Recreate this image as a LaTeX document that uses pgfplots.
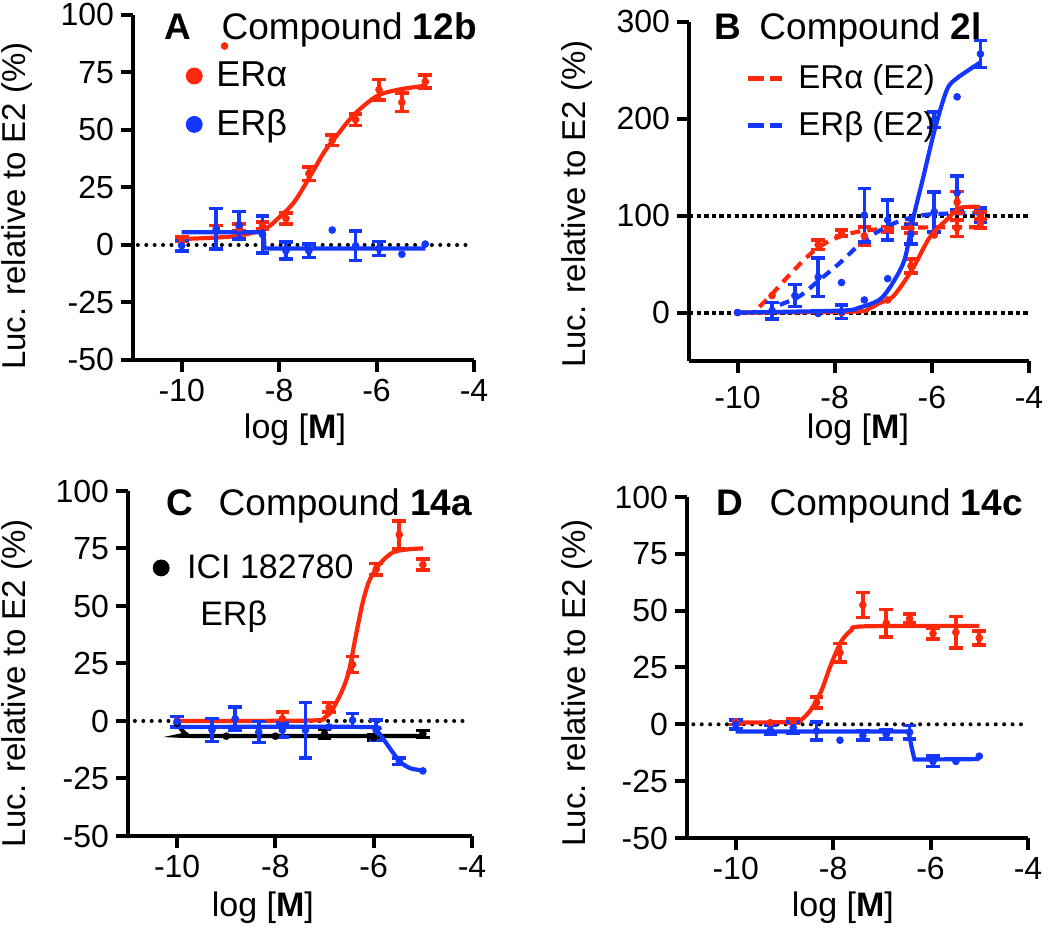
\documentclass[border=0pt]{standalone}
\usepackage{fontspec}
\setmainfont{Liberation Sans}
\usepackage{pgfplots}
\pgfplotsset{compat=1.18}

\definecolor{pred}{RGB}{255,40,10}
\definecolor{pblue}{RGB}{20,55,255}

\tikzset{ttl/.style={anchor=base west, font=\fontsize{18.5}{18.5}\selectfont}}

\pgfplotsset{
  prism/.style={
    scale only axis, clip=false,
    axis lines=left, axis line style={-, line width=2pt},
    every tick/.style={black, line width=2pt},
    tick align=outside, major tick length=6pt,
    xmin=-11, xmax=-4, xtick={-10,-8,-6,-4},
    ymin=-50, ymax=100, ytick={-50,-25,0,25,50,75,100},
    /pgf/number format/assume math mode=true,
    tick label style={font=\fontsize{16}{16}\selectfont},
    xlabel={log [\textbf{M}]},
    ylabel={Luc. relative to E2 (\%)},
    xlabel style={font=\fontsize{17}{17}\selectfont, anchor=center},
    ylabel style={font=\fontsize{16.5}{16.5}\selectfont, anchor=center},
    legend style={draw=none, fill=none, font=\fontsize{18}{18}\selectfont,
      inner sep=0pt, row sep=6pt,
      /tikz/every odd column/.append style={column sep=5pt}},
    legend cell align=left,
  },
  pts/.style={only marks, mark=*, mark size=1.7pt, #1,
    error bars/.cd, y dir=both, y explicit,
    error bar style={line width=1.8pt, #1},
    error mark options={rotate=90, mark size=3.4pt, line width=1.8pt, #1}},
  single/.style={only marks, mark=*, mark size=1.7pt, #1},
  fit/.style={line width=2.1pt, no marks, #1},
  zero/.style={black, line width=2pt, dash pattern=on 0pt off 4.2pt, line cap=round, no marks},
}

\begin{document}
\begin{tikzpicture}
\useasboundingbox (0,0) rectangle (525pt,464.5pt);

% ---------------- A: compound 12b ----------------
\begin{axis}[prism, at={(66.5pt,284.5pt)}, anchor=south west,
    width=170.5pt, height=172.5pt,
    ylabel style={at={(axis description cs:-0.34,0.446)}},
    xlabel style={at={(axis description cs:0.475,-0.203)}},
    legend style={at={(axis description cs:0.155,0.752)}, anchor=west}]
  \addlegendimage{only marks, mark=*, mark size=4pt, pred}
  \addlegendentry{ERα}
  \addlegendimage{only marks, mark=*, mark size=4pt, pblue}
  \addlegendentry{ERβ}
  \addplot[zero] coordinates {(-10.9,0) (-4.14,0)};
  % ER alpha
  \addplot[fit=pred, smooth] coordinates {(-10,2.6) (-8.91,3.8) (-8.30,7) (-8.03,11.4) (-7.69,18.7)
    (-7.35,30.4) (-7.07,40.6) (-6.80,48) (-6.46,56.7) (-5.99,64.8) (-5.51,67.7) (-5.0,69.2)};
  \addplot[pts=pred] coordinates {(-10,2.5) +- (0,1) (-9.29,7) +- (0,1.5) (-8.82,7.5) +- (0,1.5)
    (-8.34,8.5) +- (0,1.5) (-7.86,11.5) +- (0,2.5) (-7.39,31) +- (0,3) (-6.91,45.5) +- (0,2.2)
    (-6.43,54.5) +- (0,2.5) (-5.95,67.5) +- (0,4.5) (-5.48,62) +- (0,4) (-5.0,71) +- (0,2.8)};
  \addplot[single=pred] coordinates {(-9.12,86.5)};
  % ER beta
  \addplot[fit=pblue] coordinates {(-10,5.5) (-8.32,5.5) (-8.30,-1.5) (-5.0,-1.5)};
  \addplot[pts=pblue] coordinates {(-10,-0.3) +- (0,2.2) (-9.29,7) +- (0,8.8) (-8.82,8.6) +- (0,6)
    (-8.34,4.5) +- (0,8) (-7.86,-2.5) +- (0,3.7) (-7.39,-2.5) +- (0,3) (-6.43,-0.3) +- (0,6.5)
    (-5.95,-1.5) +- (0,3)};
  \addplot[single=pblue] coordinates {(-6.91,6.5) (-5.48,-4) (-5.0,0.4)};
  \node[ttl] at (axis description cs:0.073,0.928) {\textbf{A}\hspace{15pt}Compound \textbf{12b}};
\end{axis}

% ---------------- B: compound 2l ----------------
\begin{axis}[prism, at={(344.5pt,284pt)}, anchor=south west,
    width=170pt, height=169.5pt,
    ymin=-50, ymax=300, ytick={0,100,200,300},
    xticklabel style={yshift=-3pt},
    ylabel style={at={(axis description cs:-0.33,0.463)}},
    xlabel style={at={(axis description cs:0.497,-0.204)}},
    legend style={at={(axis description cs:0.165,0.765)}, anchor=west,
      font=\fontsize{16.5}{16.5}\selectfont}]
  \addlegendimage{pred, line width=2.4pt, dash pattern=on 8pt off 3pt}
  \addlegendentry{ERα (E2)}
  \addlegendimage{pblue, line width=2.4pt, dash pattern=on 8pt off 3pt}
  \addlegendentry{ERβ (E2)}
  \addplot[zero, dash pattern=on 2.2pt off 1.6pt, line cap=butt] coordinates {(-11,0) (-4,0)};
  \addplot[zero, dash pattern=on 2.2pt off 1.6pt, line cap=butt] coordinates {(-11,100) (-4,100)};
  % ER alpha (E2), dashed
  \addplot[fit=pred, smooth, dash pattern=on 5pt off 3.5pt] coordinates {(-9.55,6) (-9.31,18) (-8.90,40.5)
    (-8.49,61) (-8.07,75) (-7.52,83.5) (-6.83,87) (-6.0,88) (-5.04,88)};
  \addplot[pts=pred] coordinates {(-8.34,70) +- (0,5) (-7.86,82) +- (0,3) (-7.39,79) +- (0,9.5)
    (-6.91,86) +- (0,3) (-6.43,87) +- (0,5) (-5.48,87) +- (0,8.5) (-5.0,92) +- (0,5)};
  \addplot[single=pred] coordinates {(-10,0) (-9.29,17.5)};
  % ER beta (E2), dashed
  \addplot[fit=pblue, smooth, dash pattern=on 5pt off 3.5pt] coordinates {(-9.13,8) (-8.72,17) (-8.33,33)
    (-7.9,51) (-7.38,75) (-6.83,91) (-6.42,98) (-6.0,101.5) (-5.04,103)};
  \addplot[pts=pblue] coordinates {(-8.82,17.5) +- (0,11.3) (-8.34,36.6) +- (0,20)
    (-7.39,100.5) +- (0,27.5) (-6.91,95.5) +- (0,20.6) (-5.95,104) +- (0,20.6)
    (-5.48,123.7) +- (0,17.5) (-5.0,100.5) +- (0,7.7)};
  \addplot[single=pblue] coordinates {(-7.86,31) (-6.43,97)};
  % compound 2l, ER alpha
  \addplot[fit=pred, smooth] coordinates {(-10,0) (-7.6,1) (-7.3,4) (-7.07,10) (-6.8,16.5) (-6.41,44)
    (-6.04,78) (-5.69,96) (-5.42,108) (-5.01,109)};
  \addplot[pts=pred] coordinates {(-6.43,48) +- (0,7) (-5.48,114) +- (0,11) (-5.0,100) +- (0,4)};
  \addplot[single=pred] coordinates {(-7.86,0) (-6.91,13) (-5.95,80)};
  % compound 2l, ER beta
  \addplot[fit=pblue, smooth] coordinates {(-10,0) (-7.87,2) (-7.5,5) (-7.07,13.5) (-6.80,31)
    (-6.56,55) (-6.39,96) (-6.19,137) (-5.94,189) (-5.69,230) (-5.48,242) (-5.01,258)};
  \addplot[pts=pblue] coordinates {(-9.29,2) +- (0,8.5) (-7.86,1) +- (0,7) (-6.43,81) +- (0,10)
    (-5.95,199) +- (0,8) (-5.0,267) +- (0,14)};
  \addplot[single=pblue] coordinates {(-10,0) (-8.34,-1) (-7.39,13) (-6.91,35) (-5.48,222.7)};
  \node[ttl] at (axis description cs:0.055,0.947) {\textbf{B}\hspace{9pt}Compound \textbf{2l}};
\end{axis}

% ---------------- C: compound 14a ----------------
\begin{axis}[prism, at={(64pt,46.5pt)}, anchor=south west,
    width=172pt, height=172.5pt,
    ylabel style={at={(axis description cs:-0.323,0.443)}},
    xlabel style={at={(axis description cs:0.392,-0.209)}},
    legend style={at={(axis description cs:0.072,0.777)}, anchor=west,
      font=\fontsize{17}{17}\selectfont,
      /tikz/every odd column/.append style={column sep=7pt}}]
  \addlegendimage{only marks, mark=*, mark size=4pt, black}
  \addlegendentry{ICI 182780}
  \addplot[zero] coordinates {(-10.86,0) (-4.15,0)};
  % ER alpha
  \addplot[fit=pred, smooth] coordinates {(-10,0) (-7.3,0.2) (-7.0,1.5) (-6.85,4.6) (-6.64,13.3)
    (-6.50,22) (-6.37,36.4) (-6.23,50.9) (-6.09,61) (-5.88,68.2) (-5.61,73.3) (-5.27,74.7) (-5,75)};
  \addplot[pts=pred] coordinates {(-7.86,1) +- (0,3) (-6.91,6) +- (0,2) (-6.43,24.5) +- (0,3.5)
    (-5.95,66) +- (0,2.5) (-5.48,81) +- (0,6) (-5.0,68) +- (0,2.4)};
  \addplot[single=pred] coordinates {(-10,0)};
  % black, ICI 182780
  \addplot[fit=black, smooth] coordinates {(-10,-1) (-9.9,-4) (-9.8,-6) (-9.6,-6.5) (-5,-6.5)};
  \addplot[pts=black] coordinates {(-7,-5.6) +- (0,2) (-6,-7.2) +- (0,1) (-5,-5.6) +- (0,1.5)};
  \addplot[single=black] coordinates {(-10,-1) (-9,-6.6) (-8,-6.6)};
  % ER beta
  \addplot[fit=pblue, smooth] coordinates {(-10,-2.6) (-6.2,-2.6) (-5.95,-4) (-5.8,-8) (-5.6,-14)
    (-5.45,-18) (-5.25,-20.6) (-5,-21.5)};
  \addplot[pts=pblue] coordinates {(-10,-0.3) +- (0,2.3) (-9.29,-4) +- (0,5) (-8.82,1) +- (0,5)
    (-8.34,-4.8) +- (0,4.5) (-7.86,-4) +- (0,3) (-7.39,-4) +- (0,12) (-6.43,0.3) +- (0,3)
    (-5.95,-4) +- (0,4.5) (-5.48,-17.5) +- (0,1.5)};
  \addplot[single=pblue] coordinates {(-6.91,-2.6) (-5.0,-21.7)};
  \node[ttl] at (axis description cs:0.09,0.930) {\textbf{C}\hspace{13pt}Compound \textbf{14a}};
  \node[anchor=west, font=\fontsize{17}{17}\selectfont, inner sep=0pt] at (axis description cs:0.209,0.635) {ERβ};
\end{axis}

% ---------------- D: compound 14c ----------------
\begin{axis}[prism, at={(343.5pt,45.5pt)}, anchor=south west,
    width=170.5pt, height=170.5pt,
    ylabel style={at={(axis description cs:-0.323,0.455)}},
    xlabel style={at={(axis description cs:0.457,-0.205)}}]
  \addplot[zero] coordinates {(-10.87,0) (-4.12,0)};
  % ER alpha
  \addplot[fit=pred, smooth] coordinates {(-10,0.8) (-8.8,1) (-8.66,1.9) (-8.46,6.3) (-8.25,14.3)
    (-8.05,26) (-7.84,36.2) (-7.63,41.3) (-7.36,43.1) (-5.0,43.3)};
  \addplot[pts=pred] coordinates {(-10,1) +- (0,1) (-8.82,1.5) +- (0,1) (-8.34,9.6) +- (0,2.5)
    (-7.86,31.5) +- (0,4) (-7.39,52.5) +- (0,5.5) (-6.91,44.5) +- (0,6) (-6.43,46.5) +- (0,2)
    (-5.95,40) +- (0,2.5) (-5.48,40.5) +- (0,7) (-5.0,38) +- (0,3)};
  \addplot[single=pred] coordinates {(-9.29,0.7)};
  % ER beta
  \addplot[fit=pblue] coordinates {(-10,-3.2) (-6.45,-3.2) (-6.4,-9) (-6.33,-15.5) (-5,-15.3)};
  \addplot[pts=pblue] coordinates {(-10,0) +- (0,2) (-9.29,-2.5) +- (0,2) (-8.82,-1.5) +- (0,2.5)
    (-8.34,-3) +- (0,4) (-7.39,-5) +- (0,2) (-6.91,-4.4) +- (0,2) (-6.43,-3.5) +- (0,3)
    (-5.95,-16.3) +- (0,2.3)};
  \addplot[single=pblue] coordinates {(-7.86,-7) (-5.48,-16.3) (-5.0,-14)};
  \node[ttl] at (axis description cs:0.067,0.947) {\textbf{D}\hspace{13pt}Compound \textbf{14c}};
\end{axis}
\end{tikzpicture}
\end{document}
